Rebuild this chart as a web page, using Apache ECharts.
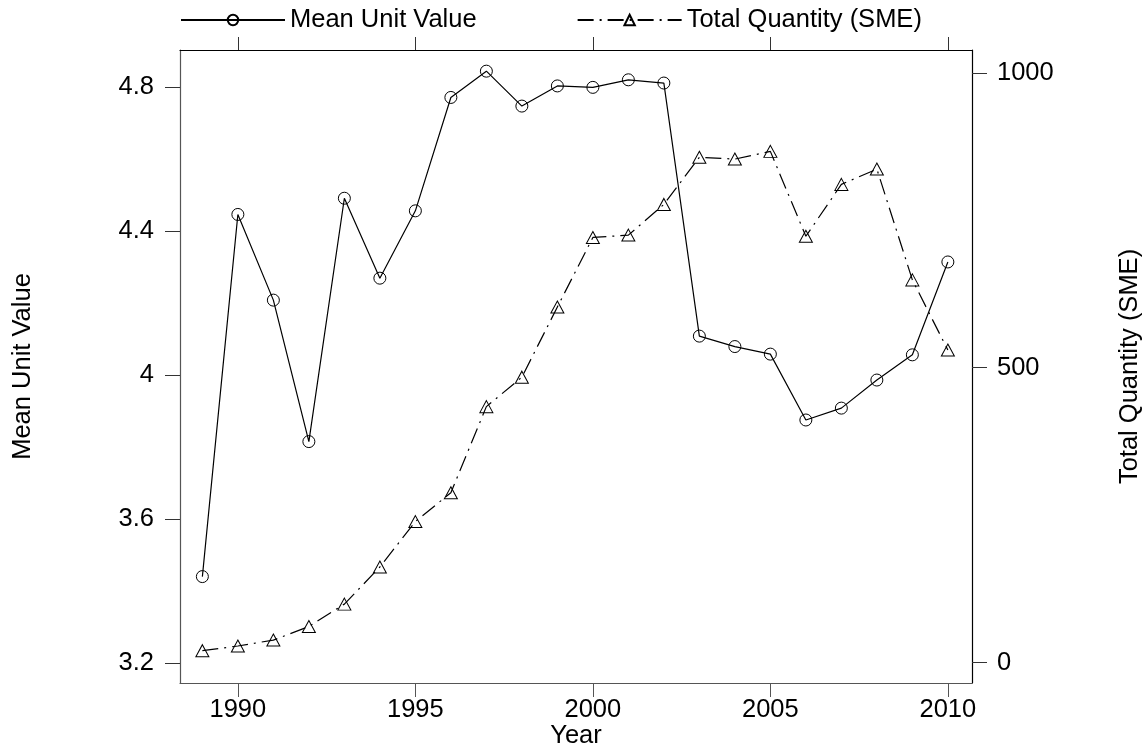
<!DOCTYPE html>
<html>
<head>
<meta charset="utf-8">
<script src="https://cdn.jsdelivr.net/npm/echarts@6/dist/echarts.min.js"></script>
<style>
  html, body { margin: 0; padding: 0; background: #fff; overflow: hidden; }
  #chart { width: 1144px; height: 749px; }
</style>
</head>
<body>
<div id="chart"></div>
<script>
// Years on the horizontal axis
const years = [1989, 1990, 1991, 1992, 1993, 1994, 1995, 1996, 1997, 1998, 1999,
               2000, 2001, 2002, 2003, 2004, 2005, 2006, 2007, 2008, 2009, 2010];

// Mean unit value (left axis)
const meanUnitValue = [3.440, 4.446, 4.208, 3.815, 4.491, 4.269, 4.456, 4.771, 4.844, 4.747, 4.803,
                       4.799, 4.820, 4.811, 4.108, 4.079, 4.058, 3.875, 3.908, 3.986, 4.056, 4.314];

// Total quantity in SME (right axis)
const totalQuantity = [20, 28, 38, 61, 99, 162, 239, 288, 434, 484, 603,
                       721, 725, 777, 857, 854, 867, 723, 811, 837, 649, 530];

// Tick labels
const yearTicks = [1990, 1995, 2000, 2005, 2010];
const leftTicks = [3.2, 3.6, 4.0, 4.4, 4.8];
const rightTicks = [0, 500, 1000];

const FONT = 'Liberation Sans, Arial, Helvetica, sans-serif';
const FS = 25.5;

const chart = echarts.init(document.getElementById('chart'), null, { renderer: 'canvas' });

const xRange = { min: 1988.37, max: 2010.68 };

chart.setOption({
  animation: false,
  backgroundColor: '#fff',
  textStyle: { fontFamily: FONT, color: '#000' },
  // plot frame: fixed box, no shrinking to fit the outer labels
  grid: { left: 180, right: 172, top: 50, bottom: 66, containLabel: false, outerBoundsMode: 'none' },
  legend: {
    top: 7,
    left: 180,
    padding: 0,
    itemWidth: 104,
    itemHeight: 13,
    itemGap: 100,
    textStyle: { fontFamily: FONT, fontSize: FS, color: '#000' },
    data: ['Mean Unit Value', 'Total Quantity (SME)']
  },
  xAxis: [
    {
      type: 'value',
      position: 'bottom',
      min: xRange.min,
      max: xRange.max,
      name: 'Year',
      nameLocation: 'middle',
      nameGap: 40,
      nameMoveOverlap: false,
      nameTextStyle: { fontFamily: FONT, fontSize: FS, color: '#000' },
      axisLine: { show: true, onZero: false, lineStyle: { color: '#555', width: 1.2 } },
      axisTick: { show: true, inside: false, length: 14, customValues: yearTicks, lineStyle: { color: '#555', width: 1 } },
      axisLabel: { show: true, margin: 14, customValues: yearTicks, fontFamily: FONT, fontSize: FS, color: '#000',
                   formatter: v => String(v) },
      splitLine: { show: false }
    },
    {
      type: 'value',
      position: 'top',
      min: xRange.min,
      max: xRange.max,
      axisLine: { show: true, onZero: false, lineStyle: { color: '#000', width: 1.2 } },
      axisTick: { show: true, inside: false, length: 13, customValues: yearTicks, lineStyle: { color: '#333', width: 1 } },
      axisLabel: { show: false },
      splitLine: { show: false }
    }
  ],
  yAxis: [
    {
      type: 'value',
      position: 'left',
      min: 3.1444,
      max: 4.9028,
      name: 'Mean Unit Value',
      nameLocation: 'middle',
      nameRotate: 90,
      nameGap: 144,
      nameTextStyle: { fontFamily: FONT, fontSize: FS, color: '#000' },
      axisLine: { show: true, onZero: false, lineStyle: { color: '#555', width: 1.2 } },
      axisTick: { show: true, inside: false, length: 15, customValues: leftTicks, lineStyle: { color: '#333', width: 1 } },
      axisLabel: { show: true, margin: 26, customValues: leftTicks, fontFamily: FONT, fontSize: FS, color: '#000',
                   formatter: v => String(Math.round(v * 10) / 10) },
      splitLine: { show: false }
    },
    {
      type: 'value',
      position: 'right',
      min: -34.8,
      max: 1039,
      name: 'Total Quantity (SME)',
      nameLocation: 'middle',
      nameRotate: 90,
      nameGap: 145,
      nameTextStyle: { fontFamily: FONT, fontSize: FS, color: '#000' },
      axisLine: { show: true, onZero: false, lineStyle: { color: '#000', width: 1.2 } },
      axisTick: { show: true, inside: false, length: 15, customValues: rightTicks, lineStyle: { color: '#333', width: 1 } },
      axisLabel: { show: true, margin: 25, customValues: rightTicks, fontFamily: FONT, fontSize: FS, color: '#000',
                   formatter: v => String(Math.round(v)) },
      splitLine: { show: false }
    }
  ],
  series: [
    {
      name: 'Mean Unit Value',
      type: 'line',
      xAxisIndex: 0,
      yAxisIndex: 0,
      data: years.map((y, i) => [y, meanUnitValue[i]]),
      symbol: 'circle',
      symbolSize: 12,
      showAllSymbol: true,
      lineStyle: { color: '#000', width: 1.2, type: 'solid' },
      itemStyle: { color: 'rgba(255,255,255,0)', borderColor: '#000', borderWidth: 1 },
      emphasis: { disabled: true }
    },
    {
      name: 'Total Quantity (SME)',
      type: 'line',
      xAxisIndex: 0,
      yAxisIndex: 1,
      data: years.map((y, i) => [y, totalQuantity[i]]),
      symbol: 'triangle',
      symbolSize: [13, 12],
      showAllSymbol: true,
      lineStyle: { color: '#000', width: 1.2, type: [16, 6, 2, 6] },
      itemStyle: { color: 'rgba(255,255,255,0)', borderColor: '#000', borderWidth: 1 },
      emphasis: { disabled: true }
    }
  ]
});
</script>
</body>
</html>
